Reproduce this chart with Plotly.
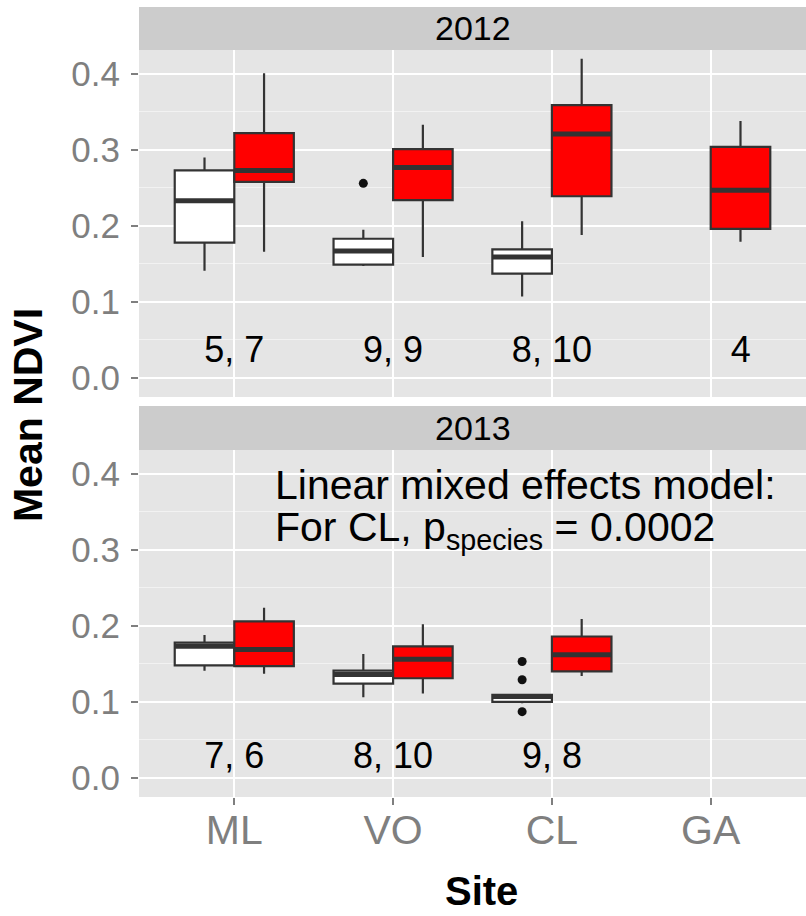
import plotly.graph_objects as go

# ---------------- data ----------------
sites = ["ML", "VO", "CL", "GA"]
site_pos = [1, 2, 3, 4]

# 2012 : group "white" (species A) and "red" (species B)
w12_sites = ["ML", "VO", "CL"]
w12_low = [0.141, 0.147, 0.107]
w12_q1 = [0.178, 0.149, 0.137]
w12_med = [0.233, 0.167, 0.159]
w12_q3 = [0.273, 0.183, 0.169]
w12_high = [0.290, 0.195, 0.206]

r12_sites = ["ML", "VO", "CL", "GA"]
r12_low = [0.166, 0.159, 0.188, 0.179]
r12_q1 = [0.258, 0.234, 0.239, 0.196]
r12_med = [0.273, 0.277, 0.321, 0.247]
r12_q3 = [0.322, 0.301, 0.359, 0.304]
r12_high = [0.401, 0.333, 0.420, 0.338]

# 2013
w13_sites = ["ML", "VO", "CL"]
w13_low = [0.141, 0.106, 0.098]
w13_q1 = [0.148, 0.124, 0.100]
w13_med = [0.173, 0.136, 0.107]
w13_q3 = [0.178, 0.141, 0.109]
w13_high = [0.188, 0.163, 0.110]

r13_sites = ["ML", "VO", "CL"]
r13_low = [0.137, 0.111, 0.134]
r13_q1 = [0.147, 0.131, 0.140]
r13_med = [0.169, 0.156, 0.162]
r13_q3 = [0.206, 0.173, 0.186]
r13_high = [0.224, 0.202, 0.209]

# outliers
out12_sites = ["VO"]
out12_vals = [0.256]
out13_sites = ["CL", "CL", "CL"]
out13_vals = [0.153, 0.129, 0.087]

# sample-size labels
n12_labels = ["5, 7", "9, 9", "8, 10", "4"]
n12_x = [1, 2, 3, 4.19]
n12_y = [0.033, 0.033, 0.033, 0.033]
n13_labels = ["7, 6", "8, 10", "9, 8"]
n13_x = [1, 2, 3]
n13_y = [0.025, 0.025, 0.025]

years = ["2012", "2013"]

# ---------------- style ----------------
FONT = "Liberation Sans, Arial, Helvetica, sans-serif"
DODGE = 0.1875
BOXW = 0.375
LINE = "#333333"
pos = dict(zip(sites, site_pos))

fig = go.Figure()


def add_boxes(sites_, low, q1, med, q3, high, offset, fill, xa, ya):
    xs = [pos[s] + offset for s in sites_]
    for i, x in enumerate(xs):
        fig.add_trace(go.Box(
            x=[x], q1=[q1[i]], median=[med[i]], q3=[q3[i]],
            lowerfence=[low[i]], upperfence=[high[i]],
            width=BOXW, whiskerwidth=0, fillcolor=fill,
            line=dict(color=LINE, width=2.2), boxpoints=False,
            xaxis=xa, yaxis=ya, showlegend=False, hoverinfo="skip"))
    # thick median lines
    mx, my = [], []
    for i, x in enumerate(xs):
        mx += [x - BOXW / 2, x + BOXW / 2, None]
        my += [med[i], med[i], None]
    fig.add_trace(go.Scatter(x=mx, y=my, mode="lines",
                             line=dict(color=LINE, width=5),
                             xaxis=xa, yaxis=ya, showlegend=False,
                             hoverinfo="skip"))


add_boxes(w12_sites, w12_low, w12_q1, w12_med, w12_q3, w12_high, -DODGE, "white", "x", "y")
add_boxes(r12_sites, r12_low, r12_q1, r12_med, r12_q3, r12_high, DODGE, "#FF0000", "x", "y")
add_boxes(w13_sites, w13_low, w13_q1, w13_med, w13_q3, w13_high, -DODGE, "white", "x2", "y2")
add_boxes(r13_sites, r13_low, r13_q1, r13_med, r13_q3, r13_high, DODGE, "#FF0000", "x2", "y2")

fig.add_trace(go.Scatter(x=[pos[s] - DODGE for s in out12_sites], y=out12_vals,
                         mode="markers", marker=dict(color="#111111", size=9),
                         xaxis="x", yaxis="y", showlegend=False))
fig.add_trace(go.Scatter(x=[pos[s] - DODGE for s in out13_sites], y=out13_vals,
                         mode="markers", marker=dict(color="#111111", size=9),
                         xaxis="x2", yaxis="y2", showlegend=False))

fig.add_trace(go.Scatter(x=n12_x, y=n12_y, text=n12_labels, mode="text",
                         textfont=dict(family=FONT, size=36, color="black"),
                         xaxis="x", yaxis="y", showlegend=False))
fig.add_trace(go.Scatter(x=n13_x, y=n13_y, text=n13_labels, mode="text",
                         textfont=dict(family=FONT, size=36, color="black"),
                         xaxis="x2", yaxis="y2", showlegend=False))

# ---------------- layout ----------------
TOP = [0.5063, 0.9456]
BOT = [0.0, 0.4392]
STRIP1 = [0.9456, 1.0]
STRIP2 = [0.4392, 0.4949]

yax = dict(range=[-0.0254, 0.4316], tickmode="array",
           tickvals=[0.0, 0.1, 0.2, 0.3, 0.4],
           ticktext=["0.0", "0.1", "0.2", "0.3", "0.4"],
           showgrid=True, gridcolor="white", gridwidth=2.2, zeroline=False,
           ticks="outside", ticklen=7, tickwidth=2, tickcolor="#7F7F7F",
           tickfont=dict(family=FONT, size=35, color="#7F7F7F"),
           ticklabelstandoff=4, showline=False,
           minor=dict(tickvals=[0.05, 0.15, 0.25, 0.35], showgrid=True,
                      gridcolor="#F2F2F2", gridwidth=1.1))
xax = dict(range=[0.4, 4.6], tickmode="array", tickvals=site_pos,
           ticktext=sites, showgrid=True, gridcolor="white", gridwidth=2.2,
           zeroline=False, showline=False)

fig.update_layout(
    width=806, height=916, autosize=False,
    margin=dict(l=139, r=0, t=7, b=119),
    paper_bgcolor="white", plot_bgcolor="#E5E5E5",
    boxmode="overlay",
    xaxis=dict(**xax, anchor="y", matches="x2", showticklabels=False, ticks=""),
    xaxis2=dict(**xax, anchor="y2", ticks="outside", ticklen=7, tickwidth=2,
                tickcolor="#7F7F7F", ticklabelstandoff=-10,
                tickfont=dict(family=FONT, size=41, color="#7F7F7F")),
    yaxis=dict(**yax, domain=TOP, anchor="x"),
    yaxis2=dict(**yax, domain=BOT, anchor="x2"),
    shapes=[
        dict(type="rect", xref="paper", yref="paper", x0=0, x1=1,
             y0=STRIP1[0], y1=STRIP1[1], fillcolor="#CCCCCC", line=dict(width=0),
             layer="below"),
        dict(type="rect", xref="paper", yref="paper", x0=0, x1=1,
             y0=STRIP2[0], y1=STRIP2[1], fillcolor="#CCCCCC", line=dict(width=0),
             layer="below"),
    ],
)

annotations = [
    dict(text=years[0], xref="paper", yref="paper", x=0.5,
         y=(STRIP1[0] + STRIP1[1]) / 2, showarrow=False, xanchor="center",
         yanchor="middle", font=dict(family=FONT, size=34, color="black")),
    dict(text=years[1], xref="paper", yref="paper", x=0.5,
         y=(STRIP2[0] + STRIP2[1]) / 2, showarrow=False, xanchor="center",
         yanchor="middle", font=dict(family=FONT, size=34, color="black")),
    dict(text="Linear mixed effects model:", xref="x2", yref="y2", x=1.245,
         y=0.386, xanchor="left", yanchor="middle", showarrow=False,
         font=dict(family=FONT, size=41, color="black")),
    dict(text="For CL, p<sub>species</sub> = 0.0002", xref="x2", yref="y2",
         x=1.245, y=0.326, xanchor="left", yanchor="middle", showarrow=False,
         font=dict(family=FONT, size=41, color="black")),
    dict(text="<b>Mean NDVI</b>", xref="paper", yref="paper", x=-0.1664,
         y=0.4835, textangle=-90, showarrow=False, xanchor="center",
         yanchor="middle", font=dict(family=FONT, size=41, color="black")),
    dict(text="<b>Site</b>", xref="paper", yref="paper", x=(482 - 139) / 667,
         y=-0.1196, showarrow=False, xanchor="center", yanchor="middle",
         font=dict(family=FONT, size=40, color="black")),
]
fig.update_layout(annotations=annotations)

fig.write_html("out.html")
